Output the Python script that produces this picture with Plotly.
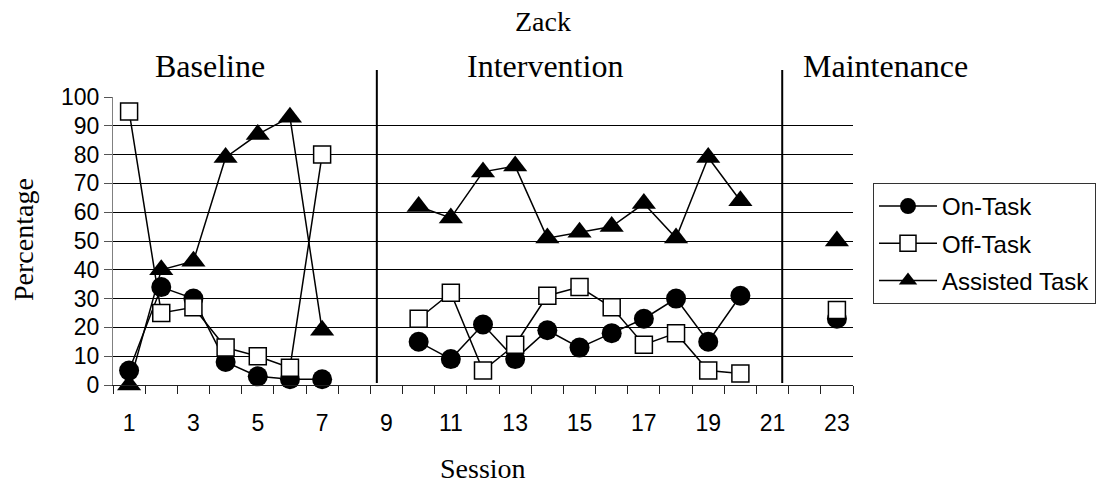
import plotly.graph_objects as go

# Sessions 1-23; None marks sessions with no observation (phase gaps)
sessions = list(range(1, 24))
on_task = [5, 34, 30, 8, 3, 2, 2, None, None,
           15, 9, 21, 9, 19, 13, 18, 23, 30, 15, 31, None, None, 23]
off_task = [95, 25, 27, 13, 10, 6, 80, None, None,
            23, 32, 5, 14, 31, 34, 27, 14, 18, 5, 4, None, None, 26]
assisted = [0, 40, 43, 79, 87, 93, 19, None, None,
            62, 58, 74, 76, 51, 53, 55, 63, 51, 79, 64, None, None, 50]

phase_names = ["Baseline", "Intervention", "Maintenance"]
phase_breaks = [8.7, 21.3]          # sessions where the phase-change lines sit
x_tick_labels = [str(s) for s in range(1, 24, 2)]
y_ticks = list(range(0, 101, 10))

SERIF = "Liberation Serif, Times New Roman, serif"
SANS = "Liberation Sans, Arial, sans-serif"

W, H = 1099, 484
L, R, T, B = 113, 246, 97, 99
plot_w, plot_h = W - L - R, H - T - B


def px_x(px):
    return (px - L) / plot_w


def px_y(py):
    return (H - B - py) / plot_h


fig = go.Figure()

series = [
    ("On-Task", on_task, dict(symbol="circle", size=20, color="black")),
    ("Off-Task", off_task, dict(symbol="square", size=17, color="white",
                                line=dict(color="black", width=1.5))),
    ("Assisted Task", assisted, dict(symbol="triangle-up", size=21, color="black")),
]
for name, vals, mk in series:
    fig.add_trace(go.Scatter(
        x=sessions, y=vals, name=name, legendgroup=name,
        mode="lines+markers", connectgaps=False, cliponaxis=False,
        line=dict(color="black", width=1.5), marker=mk,
    ))

# phase-change lines
for xb in phase_breaks:
    fig.add_shape(type="line", xref="x", yref="paper",
                  x0=xb, x1=xb, y0=px_y(383), y1=px_y(70),
                  line=dict(color="black", width=2))

# phase labels
phase_x = [210, 545, 885]
for name, xp in zip(phase_names, phase_x):
    fig.add_annotation(text=name, xref="paper", yref="paper",
                       x=px_x(xp), y=px_y(66), showarrow=False,
                       xanchor="center", yanchor="middle",
                       font=dict(family=SERIF, size=32, color="black"))

fig.add_annotation(text="Zack", xref="paper", yref="paper",
                   x=px_x(543), y=px_y(22), showarrow=False,
                   xanchor="center", yanchor="middle",
                   font=dict(family=SERIF, size=28, color="black"))
fig.add_annotation(text="Session", xref="paper", yref="paper",
                   x=px_x(483), y=px_y(468), showarrow=False,
                   xanchor="center", yanchor="middle",
                   font=dict(family=SERIF, size=28, color="black"))
fig.add_annotation(text="Percentage", xref="paper", yref="paper",
                   x=px_x(23), y=px_y(240), showarrow=False, textangle=-90,
                   xanchor="center", yanchor="middle",
                   font=dict(family=SERIF, size=28, color="black"))

fig.update_layout(
    width=W, height=H,
    margin=dict(l=L, r=R, t=T, b=B, autoexpand=False),
    paper_bgcolor="white", plot_bgcolor="white",
    showlegend=True,
    legend=dict(
        x=px_x(873), y=px_y(183), xanchor="left", yanchor="top",
        bordercolor="#333", borderwidth=1, bgcolor="white",
        font=dict(family=SANS, size=24, color="black"),
        traceorder="grouped", tracegroupgap=3, itemwidth=58,
    ),
    xaxis=dict(
        range=[0.5, 23.5], tickmode="array",
        tickvals=list(range(1, 24, 2)), ticktext=x_tick_labels,
        ticks="outside", ticklen=8, tickcolor="rgba(0,0,0,0)",
        ticklabelstandoff=9,
        minor=dict(tickmode="array", tickvals=[s + 0.5 for s in range(0, 24)],
                   ticks="outside", ticklen=8, tickcolor="#222", tickwidth=1,
                   showgrid=False),
        showline=True, linecolor="#222", linewidth=1,
        showgrid=False, zeroline=False,
        tickfont=dict(family=SANS, size=23, color="black"),
    ),
    yaxis=dict(
        range=[0, 100], tickmode="array", tickvals=y_ticks,
        ticks="outside", ticklen=8, tickcolor="#555",
        showline=True, linecolor="#808080", linewidth=1,
        showgrid=True, gridcolor="black", gridwidth=1, zeroline=False,
        tickfont=dict(family=SANS, size=23, color="black"),
    ),
)

fig.write_html("out.html")
